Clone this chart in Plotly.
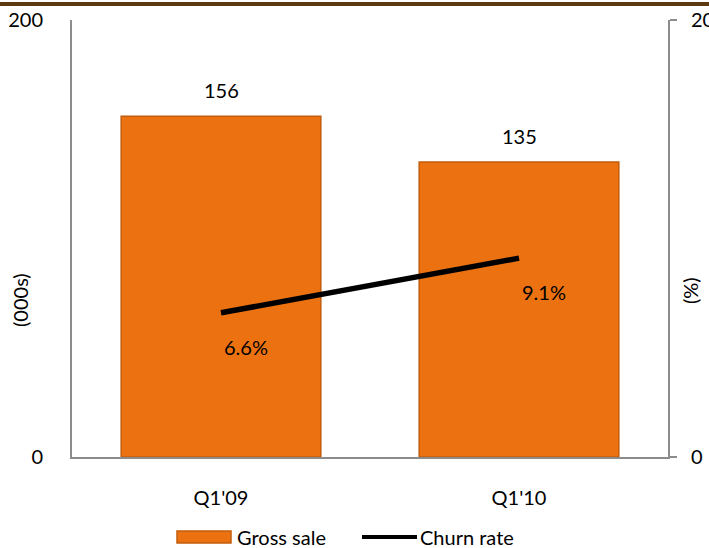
import plotly.graph_objects as go

# Quarterly gross sales (thousands) and churn rate (%)
quarters = ["Q1'09", "Q1'10"]
gross_sale = [156, 135]
churn_rate = [6.6, 9.1]

FONT = "Lato, Open Sans, sans-serif"
TXT = "#000000"
FS = 20
ORANGE = "#EC7211"
AXIS = "#8C8C8C"

# plot-area geometry in pixels, used to convert legend positions to paper units
L, R, T, B = 72, 41, 20, 91
PW, PH = 709 - L - R, 548 - T - B


def px(xp):
    return (xp - L) / PW


def py(yp):
    return (548 - B - yp) / PH


fig = go.Figure()

fig.add_trace(go.Bar(
    x=quarters, y=gross_sale, name="Gross sale",
    marker=dict(color=ORANGE, line=dict(color="#C45D0B", width=1.5)),
    width=0.67, showlegend=False,
))

fig.add_trace(go.Scatter(
    x=quarters, y=churn_rate, name="Churn rate", yaxis="y2",
    mode="lines", line=dict(color="#000000", width=5.5), showlegend=False,
))

# value labels above the bars
for q, v in zip(quarters, gross_sale):
    fig.add_annotation(x=q, y=v, text=str(v), showarrow=False,
                       yanchor="middle", yshift=26,
                       font=dict(family=FONT, size=FS, color=TXT))

# churn labels placed below-right of each point
for q, v in zip(quarters, churn_rate):
    fig.add_annotation(x=q, y=v, yref="y2", text=f"{v:.1f}%", showarrow=False,
                       xanchor="center", yanchor="middle", xshift=25, yshift=-34,
                       font=dict(family=FONT, size=FS, color=TXT))

# axis titles
fig.add_annotation(xref="paper", yref="paper", x=px(20), y=py(300), text="(000s)",
                   textangle=-90, showarrow=False, xanchor="center", yanchor="middle",
                   font=dict(family=FONT, size=FS, color=TXT))
fig.add_annotation(xref="paper", yref="paper", x=px(690), y=py(290), text="(%)",
                   textangle=-90, showarrow=False, xanchor="center", yanchor="middle",
                   font=dict(family=FONT, size=FS, color=TXT))

# legend drawn by hand: wide bar swatch and a thick line
fig.add_shape(type="rect", xref="paper", yref="paper",
              x0=px(177), x1=px(231), y0=py(543), y1=py(531),
              fillcolor=ORANGE, line=dict(color="#C45D0B", width=1.5))
fig.add_annotation(xref="paper", yref="paper", x=px(235), y=py(537), text="Gross sale",
                   showarrow=False, xanchor="left", yanchor="middle",
                   font=dict(family=FONT, size=FS, color=TXT))
fig.add_shape(type="line", xref="paper", yref="paper",
              x0=px(362), x1=px(417), y0=py(537), y1=py(537),
              line=dict(color="#000000", width=4))
fig.add_annotation(xref="paper", yref="paper", x=px(418), y=py(537), text="Churn rate",
                   showarrow=False, xanchor="left", yanchor="middle",
                   font=dict(family=FONT, size=FS, color=TXT))

# dark brown rule across the top of the page
fig.add_shape(type="line", xref="paper", yref="paper",
              x0=px(-5), x1=px(715), y0=py(4), y1=py(4),
              line=dict(color="#5C3A12", width=4))

fig.update_layout(
    width=709, height=548,
    margin=dict(l=L, r=R, t=T, b=B, autoexpand=False),
    paper_bgcolor="white", plot_bgcolor="white",
    font=dict(family=FONT, size=FS, color=TXT),
    bargap=0.33,
    showlegend=False,
    xaxis=dict(showgrid=False, showline=True, linecolor=AXIS, linewidth=2,
               ticks="", tickfont=dict(family=FONT, size=FS), ticklabelstandoff=22,
               automargin=False),
    yaxis=dict(range=[0, 200], tickvals=[0, 200], showgrid=False, zeroline=False,
               showline=True, linecolor=AXIS, linewidth=2, ticks="",
               ticklabelstandoff=23, automargin=False,
               tickfont=dict(family=FONT, size=FS)),
    yaxis2=dict(range=[0, 20], tickvals=[0, 20], overlaying="y", side="right",
                showgrid=False, zeroline=False, showline=True, linecolor=AXIS,
                linewidth=2, ticks="outside", ticklen=7, tickcolor=AXIS,
                tickwidth=2, ticklabelstandoff=10, automargin=False,
                tickfont=dict(family=FONT, size=FS)),
)

fig.write_html("out.html")
